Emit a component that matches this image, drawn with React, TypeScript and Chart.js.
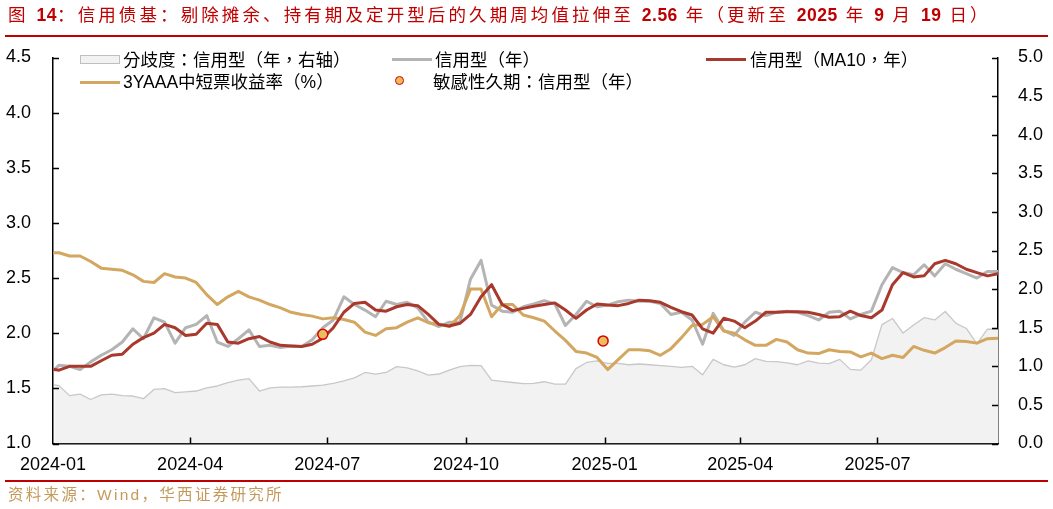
import React, { useEffect, useRef } from 'react';
import { Chart, registerables } from 'chart.js';

Chart.register(...registerables);

// ---------- data ----------
const FIRST_DATE = '2024-01-02';
const FIRST_FRIDAY = '2024-01-05';
const WEEK_COUNT = 90;
const X_MIN_DATE = '2024-01-01';
const X_MAX_DATE = '2025-09-19';

const X_TICK_LABELS = ['2024-01', '2024-04', '2024-07', '2024-10', '2025-01', '2025-04', '2025-07'];
const LEFT_TICKS = [1.0, 1.5, 2.0, 2.5, 3.0, 3.5, 4.0, 4.5];
const RIGHT_TICKS = [0.0, 0.5, 1.0, 1.5, 2.0, 2.5, 3.0, 3.5, 4.0, 4.5, 5.0];

// 分歧度：信用型（年，右轴）
const divergence = [
  0.76, 0.75, 0.62, 0.64, 0.57, 0.63, 0.64, 0.62, 0.615, 0.58, 0.70,
  0.71, 0.66, 0.67, 0.68, 0.72, 0.745, 0.79, 0.82, 0.84, 0.68,
  0.72, 0.73, 0.73, 0.735, 0.745, 0.755, 0.78, 0.81, 0.85, 0.92,
  0.90, 0.92, 0.995, 0.98, 0.94, 0.887, 0.90, 0.95, 0.995, 1.013,
  1.01, 0.82, 0.805, 0.79, 0.775, 0.78, 0.80, 0.77, 0.77, 0.97,
  1.05, 1.07, 1.039, 1.039, 1.02, 1.03, 1.02, 1.01, 1.00, 0.985,
  1.00, 0.89, 1.09, 1.02, 0.99, 1.02, 1.10, 1.065, 1.06, 1.045,
  1.02, 1.07, 1.04, 1.035, 1.09, 0.96, 0.95, 1.085, 1.54, 1.62,
  1.43, 1.535, 1.63, 1.60, 1.71, 1.56, 1.49, 1.29, 1.48, 1.48,
];

// 信用型（年）
const creditDuration = [
  1.67, 1.71, 1.70, 1.67, 1.74, 1.80, 1.85, 1.92, 2.04, 1.95, 2.14,
  2.10, 1.91, 2.05, 2.08, 2.16, 1.92, 1.88, 1.95, 2.03, 1.88,
  1.89, 1.87, 1.885, 1.88, 1.94, 2.05, 2.12, 2.33, 2.26, 2.21,
  2.15, 2.29, 2.26, 2.28, 2.23, 2.10, 2.06, 2.10, 2.10, 2.49,
  2.66, 2.255, 2.20, 2.19, 2.24, 2.265, 2.295, 2.265, 2.07, 2.17,
  2.29, 2.24, 2.255, 2.285, 2.30, 2.29, 2.29, 2.27, 2.17, 2.19,
  2.12, 1.90, 2.18, 2.025, 1.98, 2.10, 2.19, 2.16, 2.19, 2.20,
  2.19, 2.16, 2.12, 2.19, 2.20, 2.13, 2.17, 2.20, 2.44, 2.595,
  2.55, 2.53, 2.62, 2.52, 2.63, 2.58, 2.54, 2.50, 2.56, 2.56,
];

// 信用型（MA10，年）
const creditMA10 = [
  1.67, 1.665, 1.70, 1.70, 1.70, 1.75, 1.80, 1.81, 1.90, 1.96, 2.00,
  2.08, 2.05, 1.98, 1.99, 2.09, 2.08, 1.92, 1.91, 1.95, 1.97,
  1.92, 1.89, 1.885, 1.88, 1.90, 1.955, 2.05, 2.19, 2.27, 2.28,
  2.21, 2.20, 2.24, 2.26, 2.25, 2.17, 2.08, 2.065, 2.09, 2.17,
  2.33, 2.44, 2.26, 2.205, 2.225, 2.245, 2.26, 2.275, 2.21, 2.135,
  2.21, 2.265, 2.255, 2.25, 2.27, 2.30, 2.295, 2.28, 2.235, 2.195,
  2.165, 2.04, 2.00, 2.135, 2.11, 2.05, 2.11, 2.19, 2.19, 2.195,
  2.195, 2.19, 2.17, 2.145, 2.15, 2.20, 2.16, 2.14, 2.21, 2.44,
  2.55, 2.51, 2.52, 2.63, 2.66, 2.63, 2.58, 2.55, 2.52, 2.54,
];

// 3YAAA中短票收益率（%）
const yield3Y = [
  2.73, 2.73, 2.70, 2.70, 2.65, 2.59, 2.58, 2.57, 2.53, 2.47, 2.46,
  2.54, 2.51, 2.50, 2.46, 2.35, 2.26, 2.33, 2.38, 2.33, 2.30,
  2.26, 2.23, 2.19, 2.17, 2.155, 2.13, 2.14, 2.125, 2.10, 2.01,
  1.98, 2.04, 2.05, 2.10, 2.14, 2.095, 2.08, 2.06, 2.16, 2.40,
  2.40, 2.15, 2.26, 2.26, 2.165, 2.14, 2.11, 2.02, 1.935, 1.835,
  1.82, 1.78, 1.67, 1.76, 1.85, 1.85, 1.84, 1.80, 1.86, 1.96,
  2.07, 2.08, 2.15, 2.02, 2.00, 1.94, 1.89, 1.89, 1.944, 1.92,
  1.85, 1.82, 1.815, 1.85, 1.835, 1.83, 1.785, 1.82, 1.77, 1.80,
  1.78, 1.88, 1.845, 1.82, 1.87, 1.93, 1.925, 1.91, 1.95, 1.955,
];

// 敏感性久期：信用型（年）
const sensDates = ['2024-06-28', '2024-12-31'];
const sensValues = [1.99, 1.93];

// title pieces: [text, isNumber]
const TITLE_PARTS: [string, boolean][] = [
  ['图 ', false], ['14', true], ['：信用债基：剔除摊余、持有期及定开型后的久期周均值拉伸至 ', false],
  ['2.56', true], [' 年（更新至 ', false], ['2025', true], [' 年 ', false], ['9', true],
  [' 月 ', false], ['19', true], [' 日）', false],
];

// ---------- helpers ----------
const DAY_MS = 86400000;
const parseUTC = (s: string) => {
  const [y, m, d] = s.split('-').map(Number);
  return Date.UTC(y, m - 1, d);
};
const BASE = parseUTC(X_MIN_DATE);
const dayIndex = (s: string) => Math.round((parseUTC(s) - BASE) / DAY_MS);
const addDays = (s: string, n: number) => new Date(parseUTC(s) + n * DAY_MS).toISOString().slice(0, 10);

const dates: string[] = [FIRST_DATE, ...Array.from({ length: WEEK_COUNT }, (_, i) => addDays(FIRST_FRIDAY, 7 * i))];
const xs = dates.map(dayIndex);
const toPoints = (vals: number[]) => vals.map((v, i) => ({ x: xs[i], y: v }));
const xTickValues = X_TICK_LABELS.map((l) => dayIndex(l + '-01'));

const FONT = '"Liberation Sans", Arial, "Noto Sans CJK SC", sans-serif';
const LEGEND_FONT = '"Liberation Sans", Arial, "Noto Sans CJK TC", sans-serif';
const RED = '#C00000';

const inwardTicks = {
  id: 'inwardTicks',
  afterDraw(chart: any) {
    const { ctx, chartArea, scales } = chart;
    const len = 6;
    ctx.save();
    ctx.strokeStyle = '#000';
    ctx.lineWidth = 1.5;
    ctx.beginPath();
    scales.x.ticks.forEach((t: any) => {
      const px = Math.round(scales.x.getPixelForValue(t.value)) + 0.5;
      if (px > chartArea.left + 2 && px < chartArea.right - 2) {
        ctx.moveTo(px, chartArea.bottom);
        ctx.lineTo(px, chartArea.bottom - len);
      }
    });
    scales.y.ticks.forEach((t: any) => {
      const py = Math.round(scales.y.getPixelForValue(t.value)) + 0.5;
      ctx.moveTo(chartArea.left, py);
      ctx.lineTo(chartArea.left + len, py);
    });
    scales.y1.ticks.forEach((t: any) => {
      const py = Math.round(scales.y1.getPixelForValue(t.value)) + 0.5;
      ctx.moveTo(chartArea.right, py);
      ctx.lineTo(chartArea.right - len, py);
    });
    ctx.stroke();
    ctx.restore();
  },
};

function ChartCanvas() {
  const ref = useRef<HTMLCanvasElement | null>(null);
  useEffect(() => {
    if (!ref.current) return;
    const tickFont = { family: FONT, size: 18 };
    const chart = new Chart(ref.current, {
      type: 'line',
      data: {
        datasets: [
          {
            label: '分歧度：信用型（年，右轴）',
            data: toPoints(divergence),
            yAxisID: 'y1',
            borderColor: '#C8C8C8',
            borderWidth: 1.3,
            backgroundColor: '#F2F2F2',
            fill: 'start',
            pointRadius: 0,
            tension: 0,
            order: 5,
          },
          {
            label: '信用型（年）',
            data: toPoints(creditDuration),
            yAxisID: 'y',
            borderColor: '#B4B4B4',
            borderWidth: 3,
            pointRadius: 0,
            tension: 0,
            fill: false,
            order: 4,
          },
          {
            label: '3YAAA中短票收益率（%）',
            data: toPoints(yield3Y),
            yAxisID: 'y',
            borderColor: '#D4A760',
            borderWidth: 3,
            pointRadius: 0,
            tension: 0,
            fill: false,
            order: 3,
          },
          {
            label: '信用型（MA10，年）',
            data: toPoints(creditMA10),
            yAxisID: 'y',
            borderColor: '#A8392C',
            borderWidth: 3,
            pointRadius: 0,
            tension: 0,
            fill: false,
            order: 2,
          },
          {
            label: '敏感性久期：信用型（年）',
            data: sensDates.map((d, i) => ({ x: dayIndex(d), y: sensValues[i] })),
            yAxisID: 'y',
            showLine: false,
            pointRadius: 5,
            pointBackgroundColor: '#E8BF5E',
            pointBorderColor: '#E00000',
            pointBorderWidth: 1.5,
            order: 1,
          },
        ],
      },
      options: {
        responsive: false,
        animation: false,
        events: [],
        layout: { padding: { top: 57.5, left: 0, right: 0, bottom: 0 } },
        elements: { line: { borderJoinStyle: 'round', borderCapStyle: 'round' } },
        plugins: { legend: { display: false }, tooltip: { enabled: false } },
        scales: {
          x: {
            type: 'linear',
            min: dayIndex(X_MIN_DATE),
            max: dayIndex(X_MAX_DATE),
            afterBuildTicks: (scale: any) => {
              scale.ticks = xTickValues.map((v) => ({ value: v }));
            },
            afterFit: (scale: any) => {
              scale.height = 65.5;
            },
            ticks: {
              autoSkip: false,
              maxRotation: 0,
              padding: 11,
              color: '#000',
              font: tickFont,
              callback: (_v: any, i: number) => X_TICK_LABELS[i],
            },
            grid: { display: true, drawOnChartArea: false, drawTicks: false },
            border: { display: true, color: '#000', width: 1.5 },
          },
          y: {
            type: 'linear',
            position: 'left',
            min: LEFT_TICKS[0],
            max: LEFT_TICKS[LEFT_TICKS.length - 1],
            afterBuildTicks: (scale: any) => {
              scale.ticks = LEFT_TICKS.map((v) => ({ value: v }));
            },
            afterFit: (scale: any) => {
              scale.width = 53;
            },
            ticks: {
              padding: 22,
              color: '#000',
              font: tickFont,
              callback: (v: any) => Number(v).toFixed(1),
            },
            grid: { display: true, drawOnChartArea: false, drawTicks: false },
            border: { display: true, color: '#000', width: 1.5 },
          },
          y1: {
            type: 'linear',
            position: 'right',
            min: RIGHT_TICKS[0],
            max: RIGHT_TICKS[RIGHT_TICKS.length - 1],
            afterBuildTicks: (scale: any) => {
              scale.ticks = RIGHT_TICKS.map((v) => ({ value: v }));
            },
            afterFit: (scale: any) => {
              scale.width = 55;
            },
            ticks: {
              padding: 20,
              color: '#000',
              font: tickFont,
              callback: (v: any) => Number(v).toFixed(1),
            },
            grid: { display: true, drawOnChartArea: false, drawTicks: false },
            border: { display: true, color: '#000', width: 1.5 },
          },
        },
      },
      plugins: [inwardTicks],
    } as any);
    return () => chart.destroy();
  }, []);
  return <canvas ref={ref} width={1053} height={509} style={{ position: 'absolute', left: 0, top: 0, width: 1053, height: 509 }} />;
}

const legendText: React.CSSProperties = {
  position: 'absolute',
  fontFamily: LEGEND_FONT,
  fontSize: 17.5,
  lineHeight: '20px',
  color: '#000',
  whiteSpace: 'nowrap',
};

export default function App() {
  return (
    <div style={{ position: 'absolute', left: 0, top: 0, width: 1053, height: 509, background: '#fff', overflow: 'hidden' }}>
      <ChartCanvas />
      {/* title */}
      <div
        style={{
          position: 'absolute',
          left: 8,
          top: 5,
          fontFamily: FONT,
          fontSize: 17.5,
          lineHeight: '20px',
          color: RED,
          whiteSpace: 'nowrap',
        }}
      >
        {TITLE_PARTS.map(([t, num], i) => (
          <span key={i} style={num ? { fontWeight: 700, letterSpacing: '0.5px' } : { letterSpacing: '3.1px' }}>
            {t}
          </span>
        ))}
      </div>
      <div style={{ position: 'absolute', left: 5, top: 35, width: 1043, height: 2, background: RED }} />

      {/* legend row 1 */}
      <div style={{ position: 'absolute', left: 80, top: 55, width: 38, height: 7, background: '#F2F2F2', border: '1px solid #BFBFBF' }} />
      <div style={{ ...legendText, left: 123, top: 49.5 }}>分歧度：信用型（年，右轴）</div>
      <div style={{ position: 'absolute', left: 392, top: 57.5, width: 40, height: 3, background: '#B4B4B4' }} />
      <div style={{ ...legendText, left: 435, top: 49.5 }}>信用型（年）</div>
      <div style={{ position: 'absolute', left: 706, top: 57.5, width: 40, height: 3, background: '#A8392C' }} />
      <div style={{ ...legendText, left: 750, top: 49.5 }}>信用型（MA10，年）</div>

      {/* legend row 2 */}
      <div style={{ position: 'absolute', left: 80, top: 80.5, width: 40, height: 3, background: '#D4A760' }} />
      <div style={{ ...legendText, left: 123, top: 72 }}>3YAAA中短票收益率（%）</div>
      <div
        style={{
          position: 'absolute',
          left: 395,
          top: 76,
          width: 7,
          height: 7,
          borderRadius: '50%',
          background: '#E8BF5E',
          border: '1.5px solid #E00000',
        }}
      />
      <div style={{ ...legendText, left: 433, top: 72 }}>敏感性久期：信用型（年）</div>

      {/* source */}
      <div style={{ position: 'absolute', left: 5, top: 480, width: 1043, height: 2, background: RED }} />
      <div
        style={{
          position: 'absolute',
          left: 8,
          top: 485,
          fontFamily: FONT,
          fontSize: 15.5,
          letterSpacing: '2.3px',
          lineHeight: '20px',
          color: '#C49A5C',
          whiteSpace: 'nowrap',
        }}
      >
        资料来源：Wind，华西证券研究所
      </div>
    </div>
  );
}
